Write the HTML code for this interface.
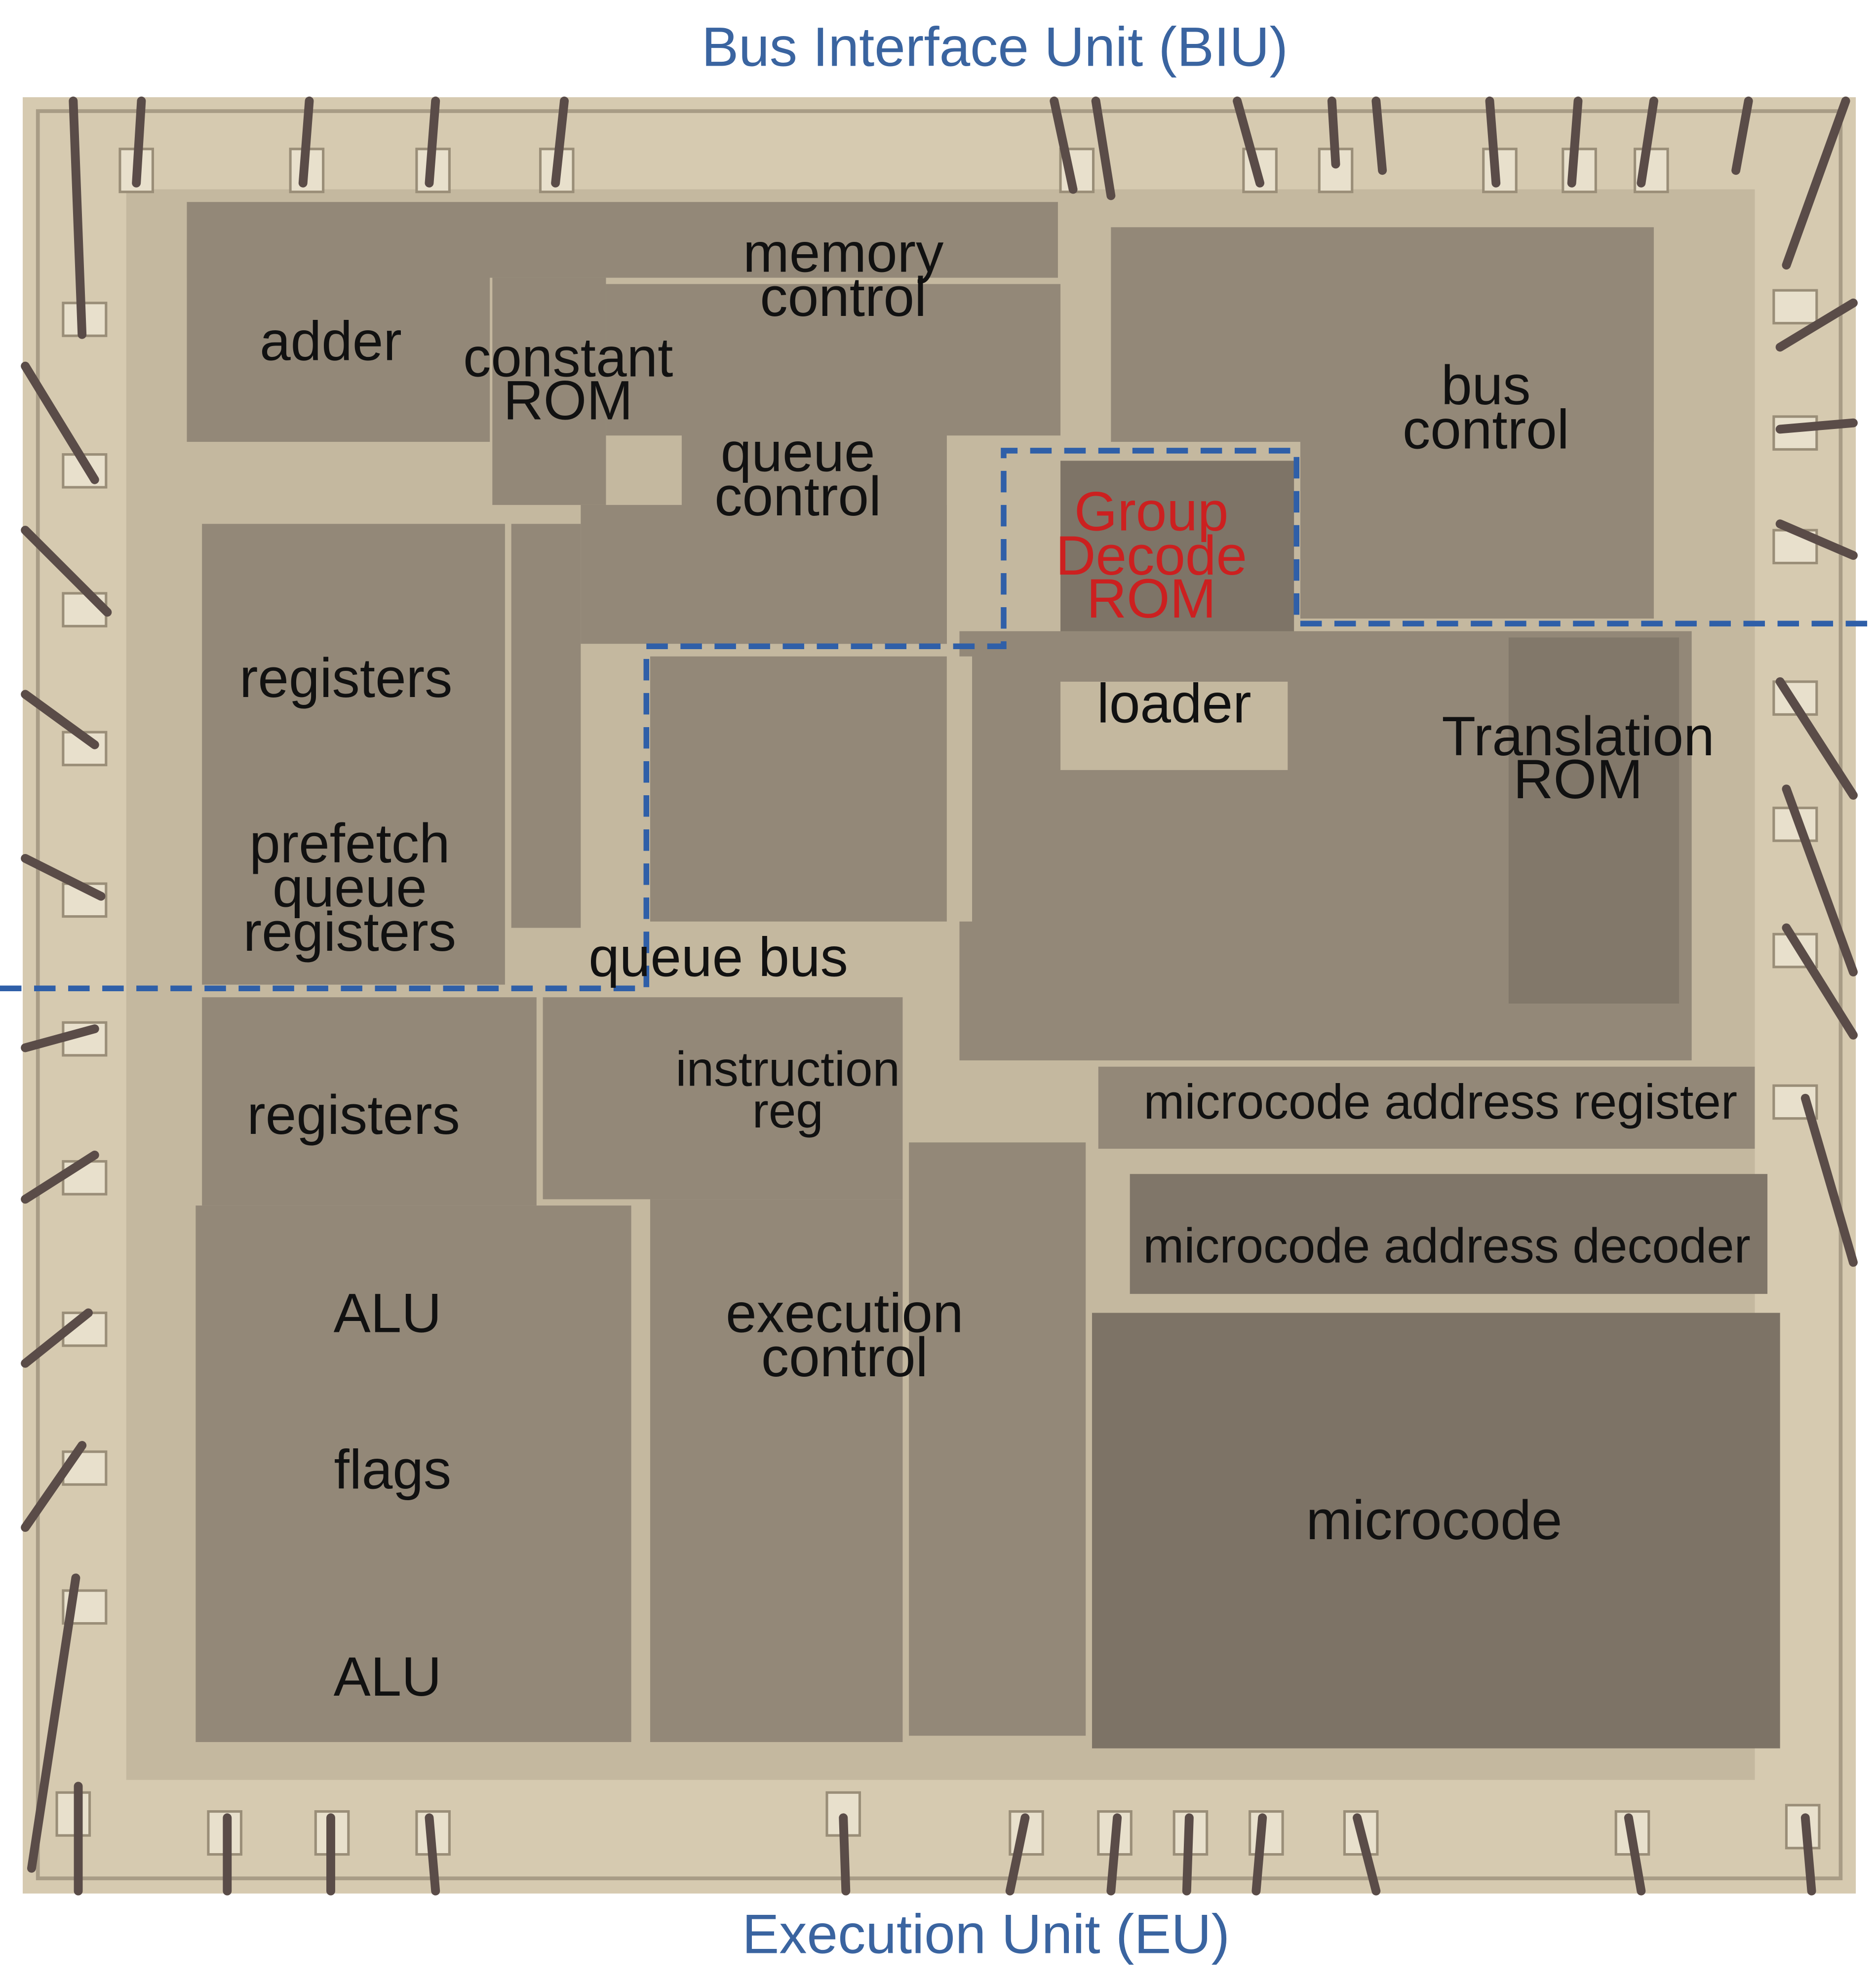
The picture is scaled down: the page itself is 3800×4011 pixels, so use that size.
<!DOCTYPE html>
<html><head><meta charset="utf-8"><style>
html,body{margin:0;padding:0;background:#fff;}
svg{display:block;}
text{font-family:"Liberation Sans",sans-serif;}
</style></head><body>
<svg width="3800" height="4011" viewBox="0 0 1486 1568.5" xmlns="http://www.w3.org/2000/svg">
<rect width="1486" height="1568.5" fill="#fff"/>
<rect x="18" y="77" width="1452" height="1423" fill="#d6cab0"/>
<rect x="30" y="88" width="1428" height="1400" fill="none" stroke="#a89c86" stroke-width="3"/>
<rect x="100" y="150" width="1290" height="1260" fill="#c4b89f"/>
<g fill="#938878">
<rect x="148" y="160" width="690" height="60"/>
<rect x="148" y="190" width="240" height="160"/>
<rect x="390" y="220" width="90" height="180"/>
<rect x="480" y="225" width="360" height="120"/>
<rect x="540" y="330" width="210" height="180"/>
<rect x="460" y="400" width="290" height="110"/>
<rect x="160" y="415" width="240" height="365"/>
<rect x="405" y="415" width="55" height="320"/>
<rect x="515" y="520" width="235" height="210"/>
<rect x="430" y="790" width="285" height="160"/>
<rect x="515" y="950" width="200" height="430"/>
<rect x="720" y="905" width="140" height="470"/>
<rect x="160" y="790" width="265" height="165"/>
<rect x="155" y="955" width="345" height="425"/>
<rect x="880" y="180" width="430" height="170"/>
<rect x="1030" y="340" width="280" height="150"/>
<rect x="840" y="365" width="185" height="165" fill="#7e7467"/>
<rect x="760" y="500" width="580" height="340"/>
<rect x="1195" y="505" width="135" height="290" fill="#82786a"/>
<rect x="870" y="845" width="520" height="65"/>
<rect x="895" y="930" width="505" height="95" fill="#807669"/>
<rect x="865" y="1040" width="545" height="345" fill="#7d7366"/>
</g>
<g fill="#c4b89f">
<rect x="840" y="540" width="180" height="70"/>
<rect x="750" y="520" width="20" height="210"/>
<rect x="420" y="740" width="330" height="40"/>
</g>
<g fill="#e8e0cc" stroke="#9a8e78" stroke-width="2">
<rect x="95" y="118" width="26" height="34"/><rect x="230" y="118" width="26" height="34"/><rect x="330" y="118" width="26" height="34"/><rect x="428" y="118" width="26" height="34"/>
<rect x="840" y="118" width="26" height="34"/><rect x="985" y="118" width="26" height="34"/><rect x="1045" y="118" width="26" height="34"/><rect x="1175" y="118" width="26" height="34"/><rect x="1238" y="118" width="26" height="34"/><rect x="1295" y="118" width="26" height="34"/>
<rect x="50" y="240" width="34" height="26"/><rect x="50" y="360" width="34" height="26"/><rect x="50" y="470" width="34" height="26"/><rect x="50" y="580" width="34" height="26"/><rect x="50" y="700" width="34" height="26"/><rect x="50" y="810" width="34" height="26"/><rect x="50" y="920" width="34" height="26"/><rect x="50" y="1040" width="34" height="26"/><rect x="50" y="1150" width="34" height="26"/><rect x="50" y="1260" width="34" height="26"/>
<rect x="1405" y="230" width="34" height="26"/><rect x="1405" y="330" width="34" height="26"/><rect x="1405" y="420" width="34" height="26"/><rect x="1405" y="540" width="34" height="26"/><rect x="1405" y="640" width="34" height="26"/><rect x="1405" y="740" width="34" height="26"/><rect x="1405" y="860" width="34" height="26"/>
<rect x="45" y="1420" width="26" height="34"/><rect x="165" y="1435" width="26" height="34"/><rect x="250" y="1435" width="26" height="34"/><rect x="330" y="1435" width="26" height="34"/><rect x="655" y="1420" width="26" height="34"/><rect x="800" y="1435" width="26" height="34"/><rect x="870" y="1435" width="26" height="34"/><rect x="930" y="1435" width="26" height="34"/><rect x="990" y="1435" width="26" height="34"/><rect x="1065" y="1435" width="26" height="34"/><rect x="1280" y="1435" width="26" height="34"/><rect x="1415" y="1430" width="26" height="34"/>
</g>
<g stroke="#5a4c48" stroke-width="7" stroke-linecap="round">
<line x1="112" y1="80" x2="108" y2="145"/><line x1="245" y1="80" x2="240" y2="145"/><line x1="345" y1="80" x2="340" y2="145"/><line x1="447" y1="80" x2="440" y2="145"/>
<line x1="835" y1="80" x2="850" y2="150"/><line x1="868" y1="80" x2="880" y2="155"/><line x1="980" y1="80" x2="998" y2="145"/><line x1="1055" y1="80" x2="1058" y2="130"/><line x1="1090" y1="80" x2="1095" y2="135"/><line x1="1180" y1="80" x2="1185" y2="145"/><line x1="1250" y1="80" x2="1245" y2="145"/><line x1="1310" y1="80" x2="1300" y2="145"/><line x1="1385" y1="80" x2="1375" y2="135"/><line x1="1462" y1="80" x2="1415" y2="210"/>
<line x1="58" y1="80" x2="65" y2="265"/><line x1="20" y1="290" x2="75" y2="380"/><line x1="20" y1="420" x2="85" y2="485"/><line x1="20" y1="550" x2="75" y2="590"/><line x1="20" y1="680" x2="80" y2="710"/><line x1="20" y1="830" x2="75" y2="815"/><line x1="20" y1="950" x2="75" y2="915"/><line x1="20" y1="1080" x2="70" y2="1040"/><line x1="20" y1="1210" x2="65" y2="1145"/><line x1="25" y1="1480" x2="60" y2="1250"/>
<line x1="1468" y1="240" x2="1410" y2="275"/><line x1="1468" y1="335" x2="1410" y2="340"/><line x1="1468" y1="440" x2="1410" y2="415"/><line x1="1468" y1="630" x2="1410" y2="540"/><line x1="1468" y1="770" x2="1415" y2="625"/><line x1="1468" y1="820" x2="1415" y2="735"/><line x1="1468" y1="1000" x2="1430" y2="870"/>
<line x1="62" y1="1498" x2="62" y2="1415"/><line x1="180" y1="1498" x2="180" y2="1440"/><line x1="262" y1="1498" x2="262" y2="1440"/><line x1="345" y1="1498" x2="340" y2="1440"/><line x1="670" y1="1498" x2="668" y2="1440"/><line x1="800" y1="1498" x2="812" y2="1440"/><line x1="880" y1="1498" x2="885" y2="1440"/><line x1="940" y1="1498" x2="942" y2="1440"/><line x1="995" y1="1498" x2="1000" y2="1440"/><line x1="1090" y1="1498" x2="1075" y2="1440"/><line x1="1300" y1="1498" x2="1290" y2="1440"/><line x1="1435" y1="1498" x2="1430" y2="1440"/>
</g>
<polyline points="0,783 512,783 512,512 795,512 795,357 1027,357 1027,494 1486,494" fill="none" stroke="#2f5fa8" stroke-width="4.5" stroke-dasharray="17,10"/>
<g fill="#3a64a0" font-size="44" text-anchor="middle" dominant-baseline="central">
<text x="788" y="37">Bus Interface Unit (BIU)</text>
<text x="781" y="1532">Execution Unit (EU)</text>
</g>
<g fill="#111" font-size="44" text-anchor="middle" dominant-baseline="central">
<text x="262" y="270">adder</text>
<text x="450" y="283">constant</text><text x="450" y="317">ROM</text>
<text x="668" y="200">memory</text><text x="668" y="235">control</text>
<text x="632" y="358">queue</text><text x="632" y="393">control</text>
<text x="1177" y="305">bus</text><text x="1177" y="340">control</text>
<text x="930" y="557">loader</text>
<text x="1250" y="583">Translation</text><text x="1250" y="617">ROM</text>
<text x="274" y="537">registers</text>
<text x="277" y="668">prefetch</text><text x="277" y="703">queue</text><text x="277" y="738">registers</text>
<text x="569" y="758">queue bus</text>
<text x="280" y="883">registers</text>
<text x="307" y="1040">ALU</text>
<text x="669" y="1040">execution</text><text x="669" y="1075">control</text>
<text x="311" y="1164">flags</text>
<text x="1136" y="1204">microcode</text>
<text x="307" y="1328">ALU</text>
</g>
<g fill="#111" font-size="39" text-anchor="middle" dominant-baseline="central">
<text x="624" y="847">instruction</text><text x="624" y="880">reg</text>
<text x="1141" y="873">microcode address register</text>
<text x="1146" y="987">microcode address decoder</text>
</g>
<g fill="#cc2020" font-size="44" text-anchor="middle" dominant-baseline="central">
<text x="912" y="405">Group</text><text x="912" y="440">Decode</text><text x="912" y="474">ROM</text>
</g>
</svg>
</body></html>
